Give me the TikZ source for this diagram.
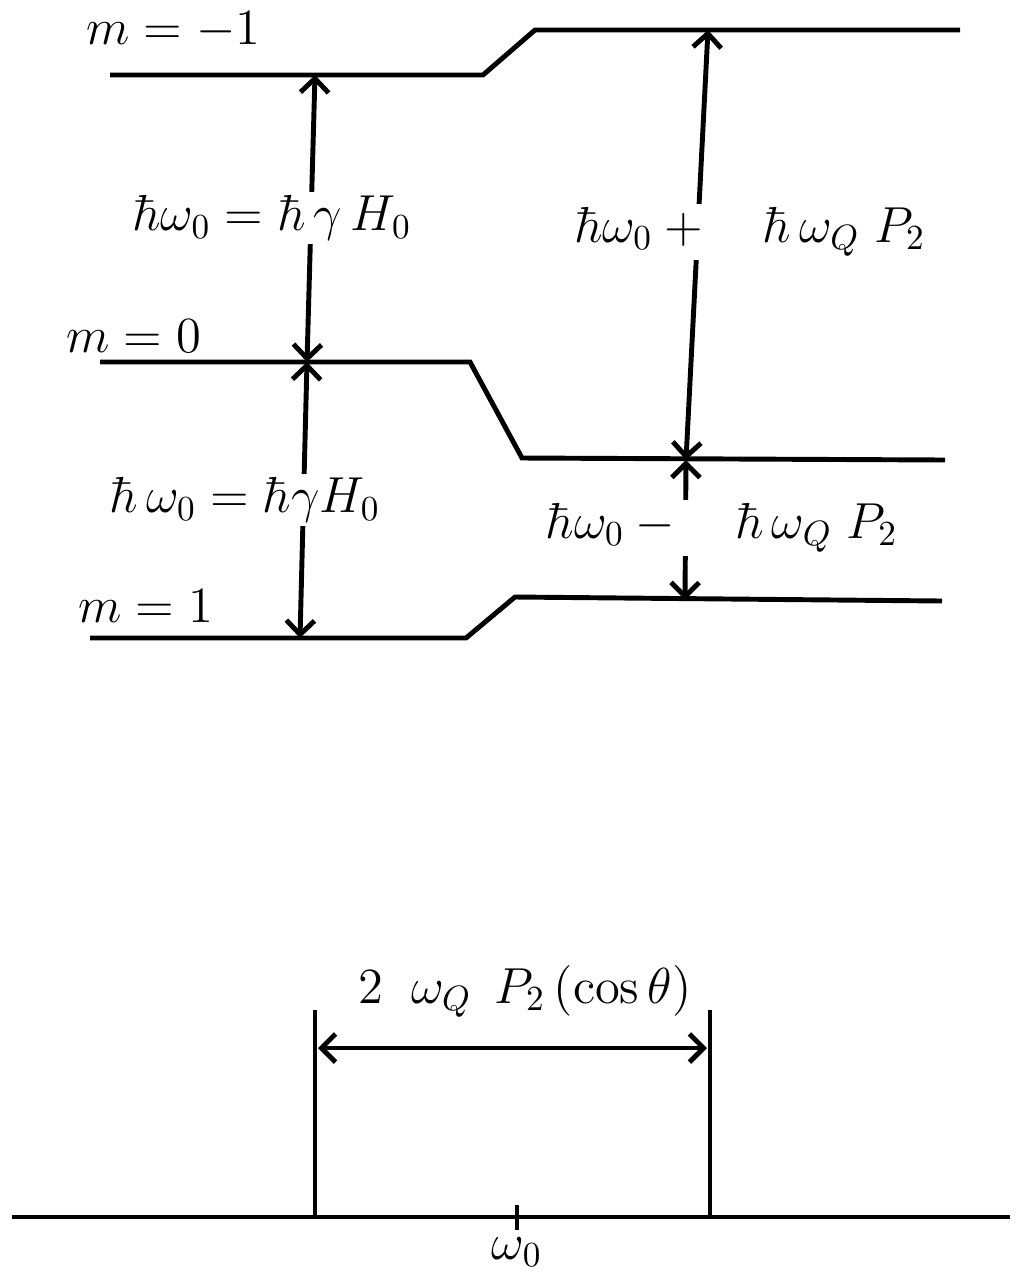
\documentclass[tikz,border=0pt]{standalone}
\usetikzlibrary{arrows.meta}
\begin{document}
\begin{tikzpicture}[x=0.01cm, y=-0.01cm, line width=1.4pt,
    every node/.style={font=\fontsize{14}{16}\selectfont},
    gap/.style={fill=white, inner sep=1pt},
    barb/.style={{Straight Barb[length=4pt,width=8pt]}-{Straight Barb[length=4pt,width=8pt]}}]
  \useasboundingbox (0,0) rectangle (1016,1272);
  % the three levels: Zeeman only on the left, with the quadrupole shift on the right
  \coordinate (lvl-1-l) at (110,75);
  \coordinate (lvl-1-r) at (960,30);
  \coordinate (lvl0-l) at (100,362);
  \coordinate (lvl0-r) at (945,460);
  \coordinate (lvl1-l) at (90,638);
  \coordinate (lvl1-r) at (942,601);
  \draw (lvl-1-l) -- (483,75) -- (535,30) -- (lvl-1-r);
  \draw (lvl0-l) -- (470,362) -- (522,458) -- (lvl0-r);
  \draw (lvl1-l) -- (466,638) -- (515,597) -- (lvl1-r);
  \node[anchor=base west] (m-1) at (72,44) {$m = -1$};
  \node[anchor=base west] (m0) at (52,352) {$m = 0$};
  \node[anchor=base west] (m1) at (64,622) {$m = 1$};
  % splittings
  \coordinate (a-top) at (315,75);
  \coordinate (a-mid) at (307,362);
  \coordinate (a-bot) at (300,638);
  \coordinate (b-top) at (708,30);
  \coordinate (b-mid) at (686,460);
  \coordinate (b-bot) at (685,600);
  \draw[barb] (a-top) -- (a-mid);
  \draw[barb] (a-mid) -- (a-bot);
  \draw[barb] (b-top) -- (b-mid);
  \draw[barb] (b-mid) -- (b-bot);
  \node[gap] (la) at (272,218) {$\hbar\omega_0 = \hbar\,\gamma\, H_0$};
  \node[gap] (lb) at (245,500) {$\hbar\,\omega_0 = \hbar\gamma H_0$};
  \node[gap] (lc) at (750,232) {$\hbar\omega_0 +\quad \hbar\,\omega_Q\; P_2$};
  \node[gap] (ld) at (722,528) {$\hbar\omega_0 -\quad \hbar\,\omega_Q\; P_2$};
  % the resulting spectrum
  \coordinate (ax-l) at (12,1217);
  \coordinate (ax-r) at (1010,1217);
  \draw (ax-l) -- (ax-r);
  \coordinate (pk-l) at (315,1217);
  \coordinate (pk-r) at (710,1217);
  \coordinate (pk-lt) at (315,1010);
  \coordinate (pk-rt) at (710,1010);
  \draw (pk-l) -- (pk-lt);
  \draw (pk-r) -- (pk-rt);
  \draw[barb] (318,1048) coordinate (w-l) -- (707,1048) coordinate (w-r);
  \node[anchor=south] (wl) at (525,1032) {$2\;\;\omega_Q\;\, P_2\,(\cos\theta)$};
  \draw (517,1205) coordinate (tk-t) -- (517,1230) coordinate (tk-b);
  \node (w0) at (517,1252) {$\omega_0$};
\end{tikzpicture}
\end{document}
